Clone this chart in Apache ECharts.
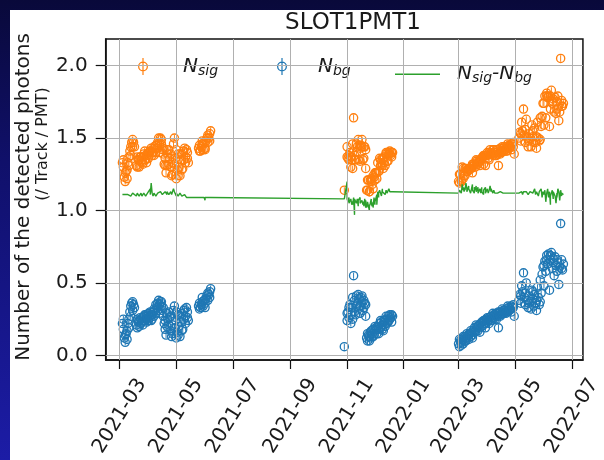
<!DOCTYPE html>
<html>
<head>
<meta charset="utf-8">
<script src="https://cdn.jsdelivr.net/npm/echarts@6/dist/echarts.min.js"></script>
<style>
html, body { margin: 0; padding: 0; width: 604px; height: 460px; overflow: hidden;
  background: linear-gradient(to bottom, #09093a 0%, #10106a 35%, #1c1ca6 100%); }
#chart { position: absolute; left: 10px; top: 10px; width: 594px; height: 450px; background: #fff; }
</style>
</head>
<body>
<div id="chart"></div>
<script>
// Run dates, first run of each day, SLOT1PMT1
const obsDates = [
  // spring 2021
  '2021-03-04','2021-03-05','2021-03-06','2021-03-07','2021-03-08','2021-03-09','2021-03-10','2021-03-11','2021-03-12','2021-03-13',
  '2021-03-14','2021-03-15','2021-03-16','2021-03-17','2021-03-19','2021-03-20','2021-03-21','2021-03-22','2021-03-23','2021-03-24',
  '2021-03-25','2021-03-26','2021-03-27','2021-03-28','2021-03-29','2021-03-30','2021-03-31','2021-04-01','2021-04-02','2021-04-03',
  '2021-04-04','2021-04-05','2021-04-06','2021-04-07','2021-04-08','2021-04-09','2021-04-10','2021-04-11','2021-04-12','2021-04-13',
  '2021-04-14','2021-04-15','2021-04-16','2021-04-17','2021-04-18','2021-04-19','2021-04-20','2021-04-21','2021-04-22','2021-04-23',
  '2021-04-24','2021-04-25','2021-04-26','2021-04-27','2021-04-28','2021-04-29','2021-04-30','2021-05-01','2021-05-02','2021-05-03',
  '2021-05-04','2021-05-05','2021-05-06','2021-05-07','2021-05-08','2021-05-09','2021-05-10','2021-05-11','2021-05-12','2021-05-13',
  '2021-05-14',
  '2021-05-25','2021-05-26','2021-05-27','2021-05-28','2021-05-29','2021-05-30','2021-05-31','2021-06-01','2021-06-02','2021-06-03',
  '2021-06-04','2021-06-05','2021-06-06','2021-06-07',
  // autumn 2021
  '2021-10-29','2021-11-01','2021-11-02','2021-11-03','2021-11-04','2021-11-05','2021-11-06','2021-11-07','2021-11-08','2021-11-09',
  '2021-11-10','2021-11-11','2021-11-12','2021-11-13','2021-11-14','2021-11-15','2021-11-16','2021-11-17','2021-11-18','2021-11-19',
  '2021-11-20','2021-11-21',
  '2021-11-22','2021-11-23','2021-11-24','2021-11-25','2021-11-26','2021-11-27','2021-11-28','2021-11-29','2021-11-30','2021-12-01',
  '2021-12-02','2021-12-03','2021-12-04','2021-12-05','2021-12-06','2021-12-07','2021-12-08','2021-12-09','2021-12-10','2021-12-11',
  '2021-12-12','2021-12-13','2021-12-14','2021-12-15','2021-12-16','2021-12-17','2021-12-18','2021-12-19','2021-12-20',
  // spring 2022
  '2022-03-01','2022-03-02','2022-03-03','2022-03-04','2022-03-05','2022-03-06','2022-03-07','2022-03-08','2022-03-09','2022-03-10',
  '2022-03-11','2022-03-12','2022-03-13','2022-03-14','2022-03-15','2022-03-16','2022-03-17','2022-03-18','2022-03-19','2022-03-20',
  '2022-03-21','2022-03-22','2022-03-23','2022-03-24','2022-03-25','2022-03-26','2022-03-27','2022-03-28','2022-03-29','2022-03-30',
  '2022-03-31','2022-04-01','2022-04-02','2022-04-03','2022-04-04','2022-04-05','2022-04-06','2022-04-07','2022-04-08','2022-04-09',
  '2022-04-10','2022-04-11','2022-04-12','2022-04-13','2022-04-14','2022-04-15','2022-04-16','2022-04-17','2022-04-18','2022-04-19',
  '2022-04-20','2022-04-21','2022-04-22','2022-04-23','2022-04-24','2022-04-25','2022-04-26','2022-04-27','2022-04-28','2022-04-29',
  '2022-04-30',
  '2022-05-05','2022-05-06','2022-05-07','2022-05-08','2022-05-09','2022-05-10','2022-05-11','2022-05-12','2022-05-13','2022-05-14',
  '2022-05-15','2022-05-16','2022-05-17','2022-05-18','2022-05-19','2022-05-20','2022-05-21','2022-05-22','2022-05-23','2022-05-24',
  '2022-05-25','2022-05-26','2022-05-27','2022-05-28','2022-05-29','2022-05-30','2022-05-31','2022-06-01','2022-06-02','2022-06-03',
  '2022-06-04','2022-06-05','2022-06-06','2022-06-07','2022-06-08','2022-06-09','2022-06-10','2022-06-11','2022-06-12','2022-06-13',
  '2022-06-14','2022-06-15','2022-06-16','2022-06-17','2022-06-18','2022-06-19','2022-06-20','2022-06-21','2022-06-22'
];

// Detected photons per track per PMT: signal window
const nSig = [
  1.33,1.30,1.23,1.20,1.27,1.28,1.33,1.37,1.41,1.44,
  1.47,1.49,1.47,1.44,1.31,1.30,1.35,1.35,1.37,1.37,
  1.33,1.37,1.39,1.35,1.35,1.39,1.38,1.40,1.40,1.41,
  1.43,1.40,1.40,1.38,1.43,1.40,1.43,1.47,1.50,1.46,
  1.50,1.46,1.42,1.39,1.32,1.31,1.26,1.31,1.39,1.42,
  1.36,1.30,1.24,1.33,1.46,1.50,1.36,1.22,1.28,1.39,
  1.30,1.24,1.35,1.39,1.29,1.35,1.43,1.37,1.42,1.40,
  1.33,
  1.43,1.45,1.41,1.44,1.46,1.42,1.47,1.43,1.48,1.50,
  1.47,1.50,1.53,1.55,
  1.14,1.44,1.36,1.35,1.40,1.30,1.37,1.46,1.64,1.35,
  1.35,1.46,1.44,1.35,1.45,1.43,1.45,1.44,1.35,1.44,
  1.44,1.29,
  1.14,1.14,1.21,1.13,1.21,1.20,1.18,1.24,1.23,1.21,
  1.26,1.26,1.33,1.27,1.36,1.31,1.33,1.36,1.29,1.37,
  1.31,1.39,1.34,1.40,1.39,1.41,1.38,1.37,1.40,
  1.20,1.19,1.25,1.21,1.30,1.22,1.24,1.29,1.29,1.27,
  1.27,1.28,1.29,1.29,1.29,1.32,1.32,1.31,1.30,1.35,
  1.34,1.33,1.34,1.34,1.34,1.36,1.37,1.32,1.38,1.38,
  1.38,1.38,1.36,1.40,1.42,1.40,1.39,1.38,1.42,1.38,
  1.38,1.42,1.39,1.31,1.40,1.43,1.40,1.41,1.43,1.41,
  1.42,1.44,1.41,1.43,1.45,1.43,1.44,1.46,1.46,1.47,
  1.39,
  1.50,1.54,1.48,1.61,1.55,1.70,1.52,1.47,1.63,1.50,
  1.44,1.53,1.50,1.44,1.59,1.51,1.47,1.57,1.47,1.43,
  1.61,1.50,1.48,1.64,1.58,1.65,1.74,1.59,1.79,1.64,
  1.81,1.78,1.79,1.58,1.70,1.83,1.74,1.75,1.68,1.78,
  1.67,1.70,1.79,1.62,1.68,2.05,1.76,1.72,1.74
];

// Detected photons per track per PMT: background window
const nBg = [
  0.22,0.18,0.12,0.09,0.15,0.17,0.22,0.25,0.30,0.34,
  0.36,0.37,0.35,0.33,0.21,0.19,0.23,0.24,0.26,0.25,
  0.23,0.26,0.27,0.24,0.25,0.28,0.26,0.29,0.27,0.26,
  0.24,0.28,0.30,0.27,0.31,0.29,0.33,0.36,0.38,0.35,
  0.37,0.34,0.31,0.27,0.22,0.18,0.14,0.20,0.25,0.30,
  0.26,0.17,0.13,0.21,0.31,0.34,0.24,0.12,0.16,0.28,
  0.20,0.13,0.23,0.29,0.18,0.25,0.32,0.27,0.33,0.30,
  0.24,
  0.34,0.36,0.33,0.35,0.37,0.34,0.38,0.36,0.39,0.41,
  0.38,0.42,0.44,0.46,
  0.06,0.24,0.30,0.26,0.35,0.22,0.33,0.40,0.55,0.38,
  0.28,0.41,0.36,0.32,0.39,0.34,0.40,0.37,0.31,0.38,
  0.36,0.27,
  0.12,0.10,0.14,0.13,0.16,0.12,0.15,0.18,0.14,0.17,
  0.19,0.15,0.20,0.18,0.22,0.19,0.23,0.21,0.17,0.24,
  0.20,0.25,0.22,0.27,0.24,0.28,0.26,0.23,0.27,
  0.08,0.06,0.10,0.09,0.12,0.08,0.11,0.13,0.10,0.12,
  0.14,0.11,0.15,0.13,0.16,0.14,0.17,0.19,0.16,0.18,
  0.20,0.17,0.21,0.19,0.22,0.20,0.23,0.21,0.24,0.22,
  0.25,0.23,0.24,0.26,0.25,0.27,0.24,0.26,0.28,0.25,
  0.27,0.29,0.27,0.19,0.28,0.30,0.28,0.29,0.31,0.29,
  0.30,0.32,0.30,0.31,0.33,0.31,0.32,0.34,0.33,0.35,
  0.27,
  0.38,0.42,0.36,0.48,0.44,0.57,0.40,0.35,0.50,0.38,
  0.33,0.41,0.37,0.32,0.45,0.39,0.34,0.42,0.36,0.31,
  0.47,0.40,0.35,0.52,0.43,0.56,0.61,0.48,0.65,0.58,
  0.69,0.63,0.70,0.45,0.66,0.71,0.60,0.67,0.55,0.68,
  0.62,0.58,0.64,0.49,0.61,0.91,0.66,0.59,0.63
];

// Background-subtracted signal, N_sig - N_bg
const nDiff = [
  1.11,1.12,1.11,1.11,1.12,1.11,1.11,1.12,1.11,1.10,
  1.11,1.12,1.12,1.11,1.10,1.11,1.12,1.11,1.11,1.12,
  1.10,1.11,1.12,1.11,1.10,1.11,1.12,1.11,1.13,1.15,
  1.19,1.12,1.10,1.11,1.12,1.11,1.10,1.11,1.12,1.11,
  1.13,1.12,1.11,1.12,1.10,1.13,1.12,1.11,1.14,1.12,
  1.10,1.13,1.11,1.12,1.15,1.16,1.12,1.10,1.12,1.11,
  1.10,1.11,1.12,1.10,1.11,1.10,1.11,1.10,1.09,1.10,
  1.09,
  1.09,1.09,1.08,1.09,1.09,1.08,1.09,1.07,1.09,1.09,
  1.09,1.08,1.09,1.09,
  1.08,1.20,1.06,1.09,1.05,1.08,1.04,1.06,1.09,0.97,
  1.07,1.05,1.08,1.03,1.06,1.09,1.05,1.07,1.04,1.06,
  1.08,1.02,
  1.02,1.04,1.07,1.00,1.05,1.08,1.03,1.06,1.09,1.04,
  1.07,1.11,1.13,1.09,1.14,1.12,1.10,1.15,1.12,1.13,
  1.11,1.14,1.12,1.13,1.15,1.13,1.12,1.14,1.13,
  1.12,1.13,1.15,1.12,1.18,1.14,1.13,1.16,1.19,1.15,
  1.13,1.17,1.14,1.16,1.13,1.18,1.15,1.12,1.14,1.17,
  1.14,1.16,1.13,1.15,1.12,1.16,1.14,1.11,1.14,1.16,
  1.13,1.15,1.12,1.14,1.17,1.13,1.15,1.12,1.14,1.13,
  1.11,1.13,1.12,1.12,1.12,1.13,1.12,1.12,1.12,1.12,
  1.12,1.12,1.11,1.12,1.12,1.12,1.12,1.12,1.13,1.12,
  1.12,
  1.12,1.12,1.12,1.13,1.11,1.13,1.12,1.12,1.13,1.12,
  1.11,1.12,1.13,1.12,1.14,1.12,1.13,1.15,1.11,1.12,
  1.14,1.10,1.13,1.12,1.15,1.09,1.13,1.11,1.14,1.06,
  1.12,1.15,1.09,1.13,1.04,1.12,1.14,1.08,1.13,1.10,
  1.05,1.12,1.15,1.13,1.07,1.14,1.10,1.13,1.11
];

// Second runs taken on some of the days
const run2Dates = [
  '2021-03-05','2021-03-07','2021-03-09','2021-03-11','2021-03-13','2021-03-15','2021-03-20','2021-03-22','2021-03-24','2021-03-26',
  '2021-03-28','2021-03-30','2021-04-01','2021-04-03','2021-04-05','2021-04-07','2021-04-09','2021-04-11','2021-04-13','2021-04-15',
  '2021-04-17','2021-04-19','2021-04-21','2021-04-23','2021-04-25','2021-04-27','2021-04-29','2021-05-01','2021-05-03','2021-05-05',
  '2021-05-07','2021-05-09','2021-05-11','2021-05-13',
  '2021-05-26','2021-05-29','2021-06-01','2021-06-04','2021-06-06',
  '2021-11-01','2021-11-03','2021-11-05','2021-11-07','2021-11-09','2021-11-11','2021-11-13','2021-11-15','2021-11-17','2021-11-19',
  '2021-11-21',
  '2021-11-23','2021-11-25','2021-11-27','2021-11-29','2021-12-01','2021-12-03','2021-12-05','2021-12-07','2021-12-09','2021-12-11',
  '2021-12-13','2021-12-15','2021-12-17','2021-12-19',
  '2022-03-02','2022-03-04','2022-03-06','2022-03-08','2022-03-10','2022-03-12','2022-03-14','2022-03-16','2022-03-18','2022-03-20',
  '2022-03-22','2022-03-24','2022-03-26','2022-03-28','2022-03-30','2022-04-01','2022-04-03','2022-04-05','2022-04-07','2022-04-09',
  '2022-04-11','2022-04-13','2022-04-15','2022-04-17','2022-04-19','2022-04-21','2022-04-23','2022-04-25','2022-04-27','2022-04-29',
  '2022-05-07','2022-05-12','2022-05-16','2022-05-20','2022-05-24','2022-05-28','2022-06-01','2022-06-04','2022-06-08','2022-06-11',
  '2022-06-15','2022-06-20'
];
const run2Sig = [
  1.35,1.26,1.22,1.31,1.38,1.44,1.37,1.30,1.34,1.32,
  1.41,1.33,1.36,1.41,1.38,1.44,1.45,1.43,1.40,1.49,
  1.43,1.36,1.42,1.32,1.39,1.25,1.32,1.42,1.24,1.39,
  1.28,1.41,1.33,1.36,
  1.41,1.48,1.42,1.52,1.48,
  1.37,1.38,1.37,1.29,1.38,1.40,1.49,1.34,1.49,1.36,
  1.42,
  1.21,1.13,1.22,1.15,1.26,1.22,1.27,1.35,1.31,1.33,
  1.40,1.34,1.39,1.40,
  1.25,1.20,1.29,1.24,1.28,1.29,1.29,1.26,1.32,1.34,
  1.32,1.31,1.36,1.38,1.31,1.40,1.35,1.39,1.42,1.40,
  1.38,1.42,1.39,1.44,1.44,1.41,1.46,1.44,1.42,1.44,
  1.53,1.56,1.48,1.55,1.51,1.49,1.74,1.79,1.79,1.77,
  1.75,1.72
];
const run2Bg = [
  0.25,0.14,0.11,0.19,0.27,0.31,0.25,0.20,0.22,0.21,
  0.28,0.23,0.24,0.30,0.25,0.32,0.35,0.31,0.29,0.37,
  0.33,0.24,0.29,0.21,0.27,0.15,0.19,0.30,0.14,0.27,
  0.17,0.31,0.22,0.26,
  0.32,0.40,0.33,0.43,0.40,
  0.29,0.33,0.28,0.25,0.30,0.34,0.42,0.29,0.41,0.33,
  0.35,
  0.15,0.10,0.17,0.13,0.20,0.18,0.15,0.24,0.18,0.21,
  0.27,0.23,0.25,0.28,
  0.11,0.07,0.13,0.10,0.15,0.14,0.17,0.12,0.16,0.21,
  0.20,0.16,0.23,0.24,0.19,0.26,0.22,0.24,0.29,0.28,
  0.25,0.30,0.27,0.32,0.31,0.29,0.34,0.32,0.30,0.33,
  0.41,0.43,0.36,0.44,0.38,0.37,0.62,0.66,0.69,0.64,
  0.66,0.60
];
const run2Diff = [
  1.10,1.12,1.11,1.12,1.11,1.13,1.12,1.10,1.12,1.11,
  1.13,1.10,1.12,1.11,1.13,1.12,1.10,1.12,1.11,1.12,
  1.10,1.12,1.13,1.11,1.12,1.10,1.13,1.12,1.10,1.12,
  1.11,1.10,1.11,1.10,
  1.09,1.08,1.09,1.09,1.08,
  1.08,1.05,1.09,1.04,1.08,1.06,1.07,1.05,1.08,1.03,
  1.07,
  1.06,1.03,1.05,1.02,1.06,1.04,1.12,1.11,1.13,1.12,
  1.13,1.11,1.14,1.12,
  1.14,1.13,1.16,1.14,1.13,1.15,1.12,1.14,1.16,1.13,
  1.12,1.15,1.13,1.14,1.12,1.14,1.13,1.15,1.13,1.12,
  1.13,1.12,1.12,1.12,1.13,1.12,1.12,1.12,1.12,1.11,
  1.12,1.13,1.12,1.11,1.13,1.12,1.12,1.13,1.10,1.13,
  1.09,1.12
];

// Axis ticks
const monthTicks = ['2021-03','2021-05','2021-07','2021-09','2021-11','2022-01','2022-03','2022-05','2022-07'];
const yTicks = [0.0, 0.5, 1.0, 1.5, 2.0];

// dates are placed on a linear millisecond scale
const parse = s => echarts.number.parseDate(s).getTime();
const monthTs = monthTicks.map(m => parse(m + '-01'));

// merge both runs into one chronological table
const runs = obsDates.map((d, i) => ({ t: parse(d), k: 0, sig: nSig[i], bg: nBg[i], diff: nDiff[i] }))
  .concat(run2Dates.map((d, i) => ({ t: parse(d), k: 1, sig: run2Sig[i], bg: run2Bg[i], diff: run2Diff[i] })))
  .sort((a, b) => a.t - b.t || a.k - b.k);

const FONT = 'DejaVu Sans';
const INK = '#1a1a1a';
const SIG_COLOR = '#ff7f0e';
const BG_COLOR = '#1f77b4';
const DIFF_COLOR = '#2ca02c';

// hollow circle with a short vertical error bar inside
const markerPath = 'path://M0,-10A10,10 0 1,1 0,10A10,10 0 1,1 0,-10Z' +
  'M0,-7.2A7.2,7.2 0 1,0 0,7.2A7.2,7.2 0 1,0 0,-7.2Z' +
  'M-1,-6.4L1,-6.4L1,6.4L-1,6.4Z';
// legend handle: circle with a longer error bar
const legendMarker = 'path://M0,-10A10,10 0 1,1 0,10A10,10 0 1,1 0,-10Z' +
  'M0,-7.4A7.4,7.4 0 1,0 0,7.4A7.4,7.4 0 1,0 0,-7.4Z' +
  'M-1.2,-17L1.2,-17L1.2,17L-1.2,17Z';

const seriesNames = { sig: '{n|N}{s|sig}', bg: '{n|N}{s|bg}', diff: '{n|N}{s|sig}{n|-N}{s|bg}' };
const richText = {
  n: { fontFamily: FONT, fontStyle: 'italic', fontSize: 20, color: INK },
  s: { fontFamily: FONT, fontStyle: 'italic', fontSize: 14, color: INK, padding: [9, 0, 0, 0] }
};
const legendBase = {
  orient: 'horizontal', padding: 0, selectedMode: false,
  formatter: name => seriesNames[name],
  textStyle: { rich: richText, padding: [0, 0, 0, 10] }
};

const chart = echarts.init(document.getElementById('chart'), null, { renderer: 'canvas' });

chart.setOption({
  animation: false,
  grid: { left: 95.7, top: 29, right: 2.3, bottom: 100, show: true, borderColor: '#111', borderWidth: 1.5, backgroundColor: '#fff' },
  graphic: [
    { type: 'text', x: 343, y: 13, style: { text: 'SLOT1PMT1', font: '23px "DejaVu Sans"', fill: INK, align: 'center', verticalAlign: 'middle' } },
    { type: 'text', x: 13.5, y: 187, rotation: Math.PI / 2, style: { text: 'Number of the detected photons', font: '20px "DejaVu Sans"', fill: INK, align: 'center', verticalAlign: 'middle' } },
    { type: 'text', x: 32.5, y: 134, rotation: Math.PI / 2, style: { text: '(/ Track / PMT)', font: '16px "DejaVu Sans"', fill: INK, align: 'center', verticalAlign: 'middle' } }
  ],
  legend: [
    Object.assign({}, legendBase, { data: ['sig'], left: 128, top: 46.5, itemWidth: 50, itemHeight: 17, icon: legendMarker }),
    Object.assign({}, legendBase, { data: ['bg'], left: 267, top: 46.5, itemWidth: 50, itemHeight: 17, icon: legendMarker,
      textStyle: { rich: richText, padding: [0, 0, 0, 6] } }),
    Object.assign({}, legendBase, { data: ['diff'], left: 385, top: 54.2, itemWidth: 45, itemHeight: 1.6, icon: 'rect',
      textStyle: { rich: richText, padding: [0, 0, 0, 12] } })
  ],
  xAxis: {
    type: 'value',
    min: parse('2021-02-14'),
    max: parse('2022-07-13'),
    axisLine: { show: true, onZero: false, lineStyle: { color: '#111', width: 1.5 } },
    axisTick: { show: true, customValues: monthTs, length: 9, lineStyle: { color: '#111', width: 1.2 } },
    axisLabel: {
      customValues: monthTs,
      formatter: v => monthTicks[monthTs.indexOf(v)] || '',
      rotate: 58, align: 'center', verticalAlign: 'middle', margin: 56,
      fontFamily: FONT, fontSize: 20, color: INK
    },
    splitLine: { show: false }
  },
  yAxis: {
    type: 'value',
    min: -0.032,
    max: 2.184,
    axisLine: { show: true, onZero: false, lineStyle: { color: '#111', width: 1.5 } },
    axisTick: { show: true, customValues: yTicks, length: 10, lineStyle: { color: '#111', width: 1.2 } },
    axisLabel: {
      customValues: yTicks,
      formatter: v => v.toFixed(1),
      margin: 18, fontFamily: FONT, fontSize: 20, color: INK
    },
    splitLine: { show: false }
  },
  series: [
    {
      name: 'gridlines', type: 'line', data: [], silent: true, z: 1,
      markLine: {
        silent: true, symbol: ['none', 'none'], label: { show: false },
        lineStyle: { color: '#b0b0b0', width: 1, type: 'solid' },
        emphasis: { disabled: true },
        data: monthTs.map(t => ({ xAxis: t })).concat(yTicks.map(v => ({ yAxis: v })))
      }
    },
    {
      name: 'sig', type: 'scatter', z: 3,
      symbol: markerPath, symbolSize: 9.5,
      itemStyle: { color: SIG_COLOR, opacity: 1 },
      data: runs.map(r => [r.t, r.sig])
    },
    {
      name: 'bg', type: 'scatter', z: 3,
      symbol: markerPath, symbolSize: 9.5,
      itemStyle: { color: BG_COLOR, opacity: 1 },
      data: runs.map(r => [r.t, r.bg])
    },
    {
      name: 'diff', type: 'line', z: 4,
      showSymbol: false, symbol: 'none',
      lineStyle: { color: DIFF_COLOR, width: 1.4 },
      itemStyle: { color: DIFF_COLOR },
      data: runs.map(r => [r.t, r.diff])
    }
  ]
});
</script>
</body>
</html>
